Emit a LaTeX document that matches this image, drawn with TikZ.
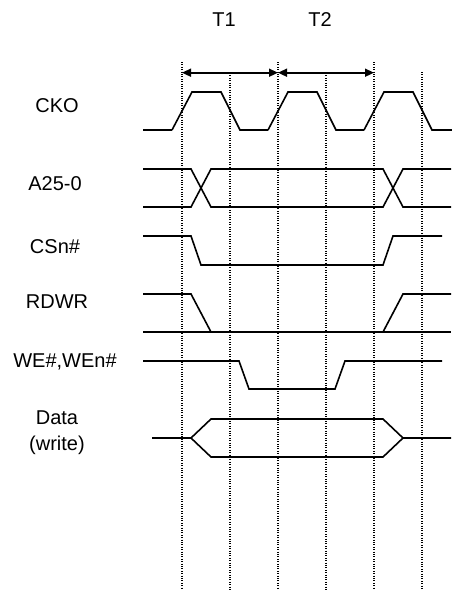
\documentclass[tikz,border=0pt]{standalone}
\usepackage{fontspec}
\setmainfont{Liberation Sans}
\usetikzlibrary{arrows.meta}

\tikzset{
    sig/.style={line width=1.6pt, line join=miter},
    gridline/.style={line width=1.1pt, dash pattern=on 1pt off 1.4pt},
    period/.style={line width=1.6pt, {Triangle[length=9pt,width=8pt]}-{Triangle[length=9pt,width=8pt]}},
    lbl/.style={font=\fontsize{20}{26}\selectfont, inner sep=0pt, align=center}
}

\begin{document}
\begin{tikzpicture}[x=1pt, y=-1pt]
        \useasboundingbox (0,0) rectangle (451,590);

        % dotted time marks
        \draw[gridline] (182,62) -- (182,590);
        \draw[gridline] (230,73) -- (230,590);
        \draw[gridline] (278,62) -- (278,590);
        \draw[gridline] (326,73) -- (326,590);
        \draw[gridline] (374,62) -- (374,590);
        \draw[gridline] (422,72) -- (422,590);

        % cycle arrows
        \coordinate (t0) at (182,72.7);
        \coordinate (t1) at (278,72.7);
        \coordinate (t2) at (374,72.7);
        \draw[period] (t0) -- (t1);
        \draw[period] (t1) -- (t2);
        \node[lbl] (T1) at (224,20) {T1};
        \node[lbl] (T2) at (320,20) {T2};

        % CKO
        \draw[sig] (143,130) -- (172,130);
        \foreach \k in {0,1,2}
            \draw[sig] (172+96*\k,130) -- ++(20,-38) -- ++(29,0) -- ++(19,38) -- ++(28,0);
        \node[lbl] (cko) at (57,106) {CKO};

        % A25-0
        \draw[sig] (143,169) -- (191,169) -- (211,207) -- (383,207) -- (403,169) -- (451,169);
        \draw[sig] (143,207) -- (191,207) -- (211,169) -- (383,169) -- (403,207) -- (451,207);
        \node[lbl] (addr) at (55,184) {A25-0};

        % CSn#
        \draw[sig] (143,236) -- (191,236) -- (201,265) -- (383,265) -- (393,236) -- (442,236);
        \node[lbl] (csn) at (55,247) {CSn\#};

        % RDWR
        \draw[sig] (143,294) -- (191,294) -- (211,332);
        \draw[sig] (143,332) -- (383,332);
        \draw[sig] (383,332) -- (451,332);
        \draw[sig] (383,332) -- (403,294) -- (451,294);
        \node[lbl] (rdwr) at (57,302) {RDWR};

        % WE#,WEn#
        \draw[sig] (143,361) -- (239,361) -- (249,389) -- (335,389) -- (345,361) -- (442,361);
        \node[lbl] (we) at (65,362) {WE\#,WEn\#};

        % Data (write)
        \draw[sig] (152,438) -- (191,438) -- (211,419) -- (383,419) -- (403,438) -- (451,438);
        \draw[sig] (191,438) -- (211,457) -- (383,457) -- (403,438);
        \node[lbl] (data) at (57,433) {Data\\(write)};
\end{tikzpicture}
\end{document}
